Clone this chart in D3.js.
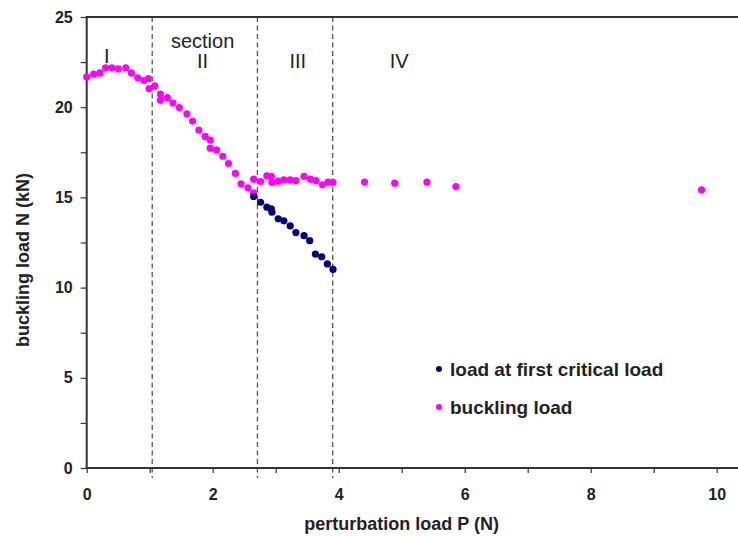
<!DOCTYPE html>
<html>
<head>
<meta charset="utf-8">
<script src="https://cdn.jsdelivr.net/npm/d3@7"></script>
<style>
  html, body { margin: 0; padding: 0; background: #fff; }
  svg { display: block; }
  text { font-family: "Liberation Sans", Arial, sans-serif; fill: #222; }
</style>
</head>
<body>
<svg id="chart" width="738" height="536"></svg>
<script>
// Perturbation load P (N) vs. buckling load N (kN)
const bucklingP = [0.00, 0.11, 0.21, 0.30, 0.40, 0.50, 0.62, 0.71, 0.81, 0.91, 0.98, 0.99,
  1.08, 1.17, 1.17, 1.28, 1.37, 1.47, 1.59, 1.68, 1.78, 1.88, 1.96, 1.96, 2.06, 2.16,
  2.25, 2.36, 2.45, 2.56, 2.65, 2.65, 2.76, 2.86, 2.93, 2.94, 3.04, 3.13, 3.23, 3.32,
  3.45, 3.55, 3.64, 3.74, 3.83, 3.91, 4.41, 4.89, 5.40, 5.86, 9.76];
const bucklingN = [21.68, 21.83, 21.9, 22.18, 22.18, 22.12, 22.18, 21.9, 21.63, 21.48, 21.58, 21.03,
  21.18, 20.73, 20.38, 20.53, 20.23, 19.98, 19.63, 19.23, 18.73, 18.38, 18.18, 17.73, 17.63, 17.28,
  16.88, 16.33, 15.75, 15.53, 15.25, 16.01, 15.88, 16.2, 16.16, 15.83, 15.9, 15.97, 15.97, 15.93,
  16.16, 16.01, 15.93, 15.7, 15.85, 15.83, 15.85, 15.79, 15.85, 15.6, 15.42];

const criticalP = [2.65, 2.76, 2.86, 2.93, 2.94, 3.04, 3.13, 3.23, 3.32, 3.45, 3.54, 3.63, 3.73, 3.82, 3.91];
const criticalN = [15.05, 14.73, 14.46, 14.36, 14.18, 13.81, 13.7, 13.42, 13.05, 12.88, 12.6, 11.86, 11.71, 11.31, 11.01];

const sectionBounds = [1.04, 2.71, 3.905];
const sectionLabels = [
  { text: "I", p: 0.32, row: 0 },
  { text: "section", p: 1.84, row: -1 },
  { text: "II", p: 1.84, row: 1 },
  { text: "III", p: 3.35, row: 1 },
  { text: "IV", p: 4.96, row: 1 }
];

const xTicks = d3.range(0, 11, 1);
const yTicks = d3.range(0, 25.01, 2.5);

const legendItems = [
  { label: "load at first critical load", color: "#000080" },
  { label: "buckling load", color: "#ff00ff" }
];

const svg = d3.select("#chart");
const W = 738, H = 536;
const plotLeft = 86.7, plotRight = 716.7, plotTop = 17, plotBottom = 468;

const x = d3.scaleLinear().domain([0, 10]).range([plotLeft, plotRight]);
const y = d3.scaleLinear().domain([0, 25]).range([plotBottom, plotTop]);

// section boundaries
svg.append("g").selectAll("line").data(sectionBounds).join("line")
  .attr("x1", d => x(d)).attr("x2", d => x(d))
  .attr("y1", plotTop).attr("y2", plotBottom + 10)
  .attr("stroke", "#555").attr("stroke-width", 1.3)
  .attr("stroke-dasharray", "5,3.5");

// axes
const xAxis = svg.append("g").attr("transform", `translate(0,${plotBottom})`)
  .call(d3.axisBottom(x).tickValues(xTicks).tickSize(5).tickPadding(16)
    .tickFormat(d => d % 2 === 0 ? d : ""));
const yAxis = svg.append("g").attr("transform", `translate(${plotLeft},0)`)
  .call(d3.axisLeft(y).tickValues(yTicks).tickSize(6).tickPadding(8)
    .tickFormat(d => d % 5 === 0 ? d : ""));
[xAxis, yAxis].forEach(g => {
  g.select(".domain").remove();
  g.selectAll(".tick line").attr("stroke", "#333").attr("stroke-width", 1.2);
  g.selectAll(".tick text").attr("font-size", 16).attr("font-weight", "bold")
    .attr("font-family", "Liberation Sans, Arial, sans-serif").attr("fill", "#222");
});

// frame lines
svg.append("line").attr("x1", plotLeft).attr("x2", W).attr("y1", plotBottom).attr("y2", plotBottom)
  .attr("stroke", "#333").attr("stroke-width", 2);
svg.append("line").attr("x1", plotLeft).attr("x2", W).attr("y1", plotTop).attr("y2", plotTop)
  .attr("stroke", "#333").attr("stroke-width", 2);
svg.append("line").attr("x1", plotLeft).attr("x2", plotLeft).attr("y1", plotTop - 1).attr("y2", plotBottom + 1)
  .attr("stroke", "#333").attr("stroke-width", 2);

// section labels
const rowY = { "-1": 48, "0": 63, "1": 68 };
svg.append("g").selectAll("text").data(sectionLabels).join("text")
  .attr("x", d => x(d.p)).attr("y", d => rowY[d.row])
  .attr("text-anchor", "middle").attr("font-size", 20)
  .text(d => d.text);

// markers
svg.append("g").selectAll("circle").data(bucklingP.map((p, i) => [p, bucklingN[i]])).join("circle")
  .attr("cx", d => x(d[0])).attr("cy", d => y(d[1])).attr("r", 3.6)
  .attr("fill", "#ff00ff");
svg.append("g").selectAll("circle").data(criticalP.map((p, i) => [p, criticalN[i]])).join("circle")
  .attr("cx", d => x(d[0])).attr("cy", d => y(d[1])).attr("r", 3.6)
  .attr("fill", "#000080");

// axis titles
svg.append("text").attr("x", (plotLeft + plotRight) / 2).attr("y", 530)
  .attr("text-anchor", "middle").attr("font-size", 18).attr("font-weight", "bold")
  .text("perturbation load P (N)");
svg.append("text").attr("transform", "translate(23,260) rotate(-90)")
  .attr("text-anchor", "middle").attr("dy", "0.35em")
  .attr("font-size", 18).attr("font-weight", "bold")
  .text("buckling load N (kN)");

// legend
const legend = svg.append("g").attr("transform", "translate(439,369)");
const li = legend.selectAll("g").data(legendItems).join("g")
  .attr("transform", (d, i) => `translate(0,${i * 38})`);
li.append("circle").attr("r", 3).attr("fill", d => d.color);
li.append("text").attr("x", 11).attr("y", 7).attr("font-size", 19).attr("font-weight", "bold")
  .text(d => d.label);
</script>
</body>
</html>
